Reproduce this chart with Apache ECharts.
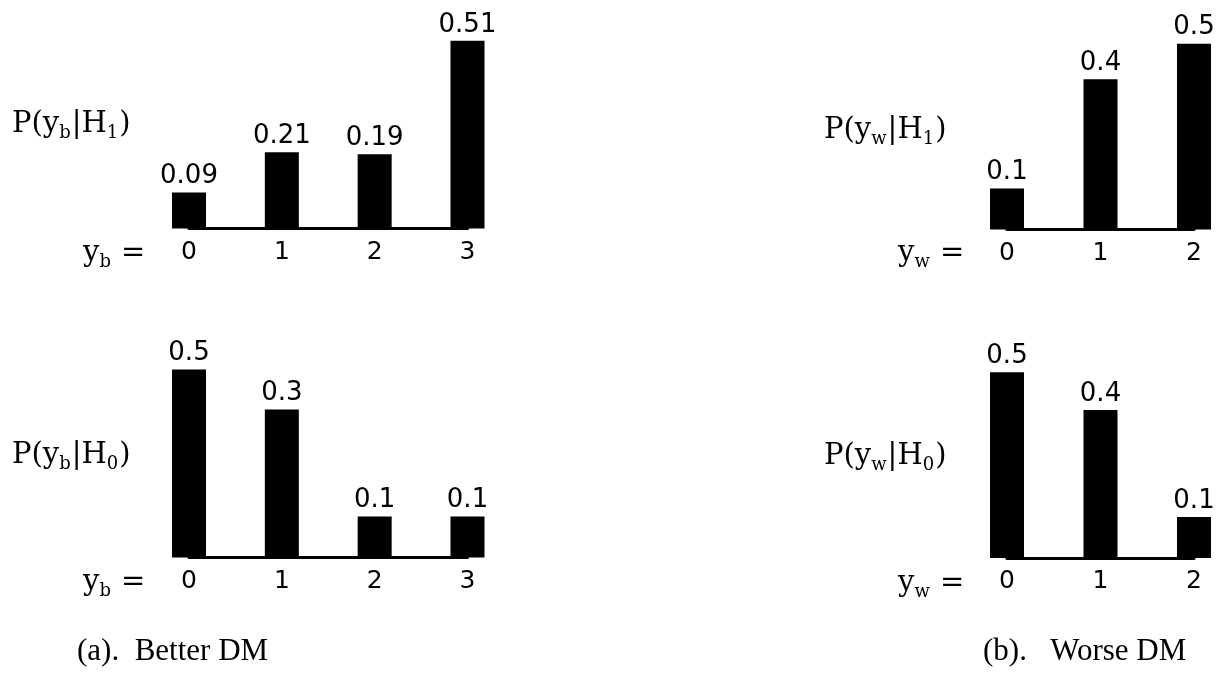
<!DOCTYPE html>
<html>
<head>
<meta charset="utf-8">
<script src="https://cdn.jsdelivr.net/npm/echarts@6/dist/echarts.min.js"></script>
<style>
  html, body { margin: 0; padding: 0; background: #fff; }
  #chart { width: 1223px; height: 683px; }
</style>
</head>
<body>
<div id="chart"></div>
<script>
// categories
const catsBetter = ['0', '1', '2', '3'];
const catsWorse = ['0', '1', '2'];

// printed probabilities (labels above bars)
const betterH1Labels = ['0.09', '0.21', '0.19', '0.51'];
const betterH0Labels = ['0.5', '0.3', '0.1', '0.1'];
const worseH1Labels = ['0.1', '0.4', '0.5'];
const worseH0Labels = ['0.5', '0.4', '0.1'];

// bar heights as drawn in the figure
const betterH1 = [0.097, 0.205, 0.2, 0.505];
const betterH0 = [0.506, 0.398, 0.11, 0.11];
const worseH1 = [0.11, 0.404, 0.5];
const worseH0 = [0.5, 0.398, 0.11];

const chart = echarts.init(document.getElementById('chart'));

const numFont = 'DejaVu Sans';
const serifFont = '"DejaVu Serif", serif';
const capFont = 'Liberation Serif';

function grid(left, top, width) {
  return { left: left, top: top, width: width, height: 223 };
}

function xAxis(idx, cats) {
  return {
    type: 'category',
    gridIndex: idx,
    data: cats,
    boundaryGap: false,
    axisLine: { lineStyle: { color: '#000', width: 3 } },
    axisTick: { show: false },
    axisLabel: { color: '#000', fontFamily: numFont, fontSize: 25, margin: 11 }
  };
}

function yAxis(idx) {
  return {
    type: 'value',
    gridIndex: idx,
    min: 0,
    max: 0.6,
    show: false
  };
}

function bars(idx, data, labels) {
  return {
    type: 'bar',
    xAxisIndex: idx,
    yAxisIndex: idx,
    data: data,
    barWidth: 34,
    itemStyle: { color: '#000' },
    label: {
      show: true,
      position: 'top',
      distance: 3,
      color: '#000',
      fontFamily: numFont,
      fontSize: 26,
      formatter: function (p) { return labels[p.dataIndex]; }
    },
    silent: true
  };
}

const rich = {
  a: { fontFamily: serifFont, fontSize: 29, lineHeight: 36, color: '#000' },
  s: { fontFamily: serifFont, fontSize: 18, lineHeight: 24, color: '#000', verticalAlign: 'bottom', padding: [0, 1, 0, 0] }
};

function txt(x, y, text) {
  return {
    type: 'text',
    x: x,
    y: y,
    style: { text: text, rich: rich, verticalAlign: 'middle', textAlign: 'left' }
  };
}

function caption(x, y, text) {
  return {
    type: 'text',
    x: x,
    y: y,
    style: {
      text: text, fontFamily: capFont, fontSize: 31,
      fill: '#000', verticalAlign: 'middle', textAlign: 'left'
    }
  };
}

const option = {
  backgroundColor: '#fff',
  animation: false,
  grid: [
    grid(189, 5.5, 278.5),
    grid(189, 334.5, 278.5),
    grid(1007, 6.5, 187),
    grid(1007, 335, 187)
  ],
  xAxis: [xAxis(0, catsBetter), xAxis(1, catsBetter), xAxis(2, catsWorse), xAxis(3, catsWorse)],
  yAxis: [yAxis(0), yAxis(1), yAxis(2), yAxis(3)],
  series: [
    bars(0, betterH1, betterH1Labels),
    bars(1, betterH0, betterH0Labels),
    bars(2, worseH1, worseH1Labels),
    bars(3, worseH0, worseH0Labels)
  ],
  graphic: [
    txt(12, 124, '{a|P(y}{s|b}{a||H}{s|1}{a|)}'),
    txt(12, 455, '{a|P(y}{s|b}{a||H}{s|0}{a|)}'),
    txt(824, 130, '{a|P(y}{s|w}{a||H}{s|1}{a|)}'),
    txt(824, 456, '{a|P(y}{s|w}{a||H}{s|0}{a|)}'),
    txt(83, 253, '{a|y}{s|b}{a| =}'),
    txt(83, 582, '{a|y}{s|b}{a| =}'),
    txt(898, 253, '{a|y}{s|w}{a| =}'),
    txt(898, 583, '{a|y}{s|w}{a| =}'),
    caption(77, 652, '(a).  Better DM'),
    caption(983, 652, '(b).   Worse DM')
  ]
};

chart.setOption(option);
</script>
</body>
</html>
